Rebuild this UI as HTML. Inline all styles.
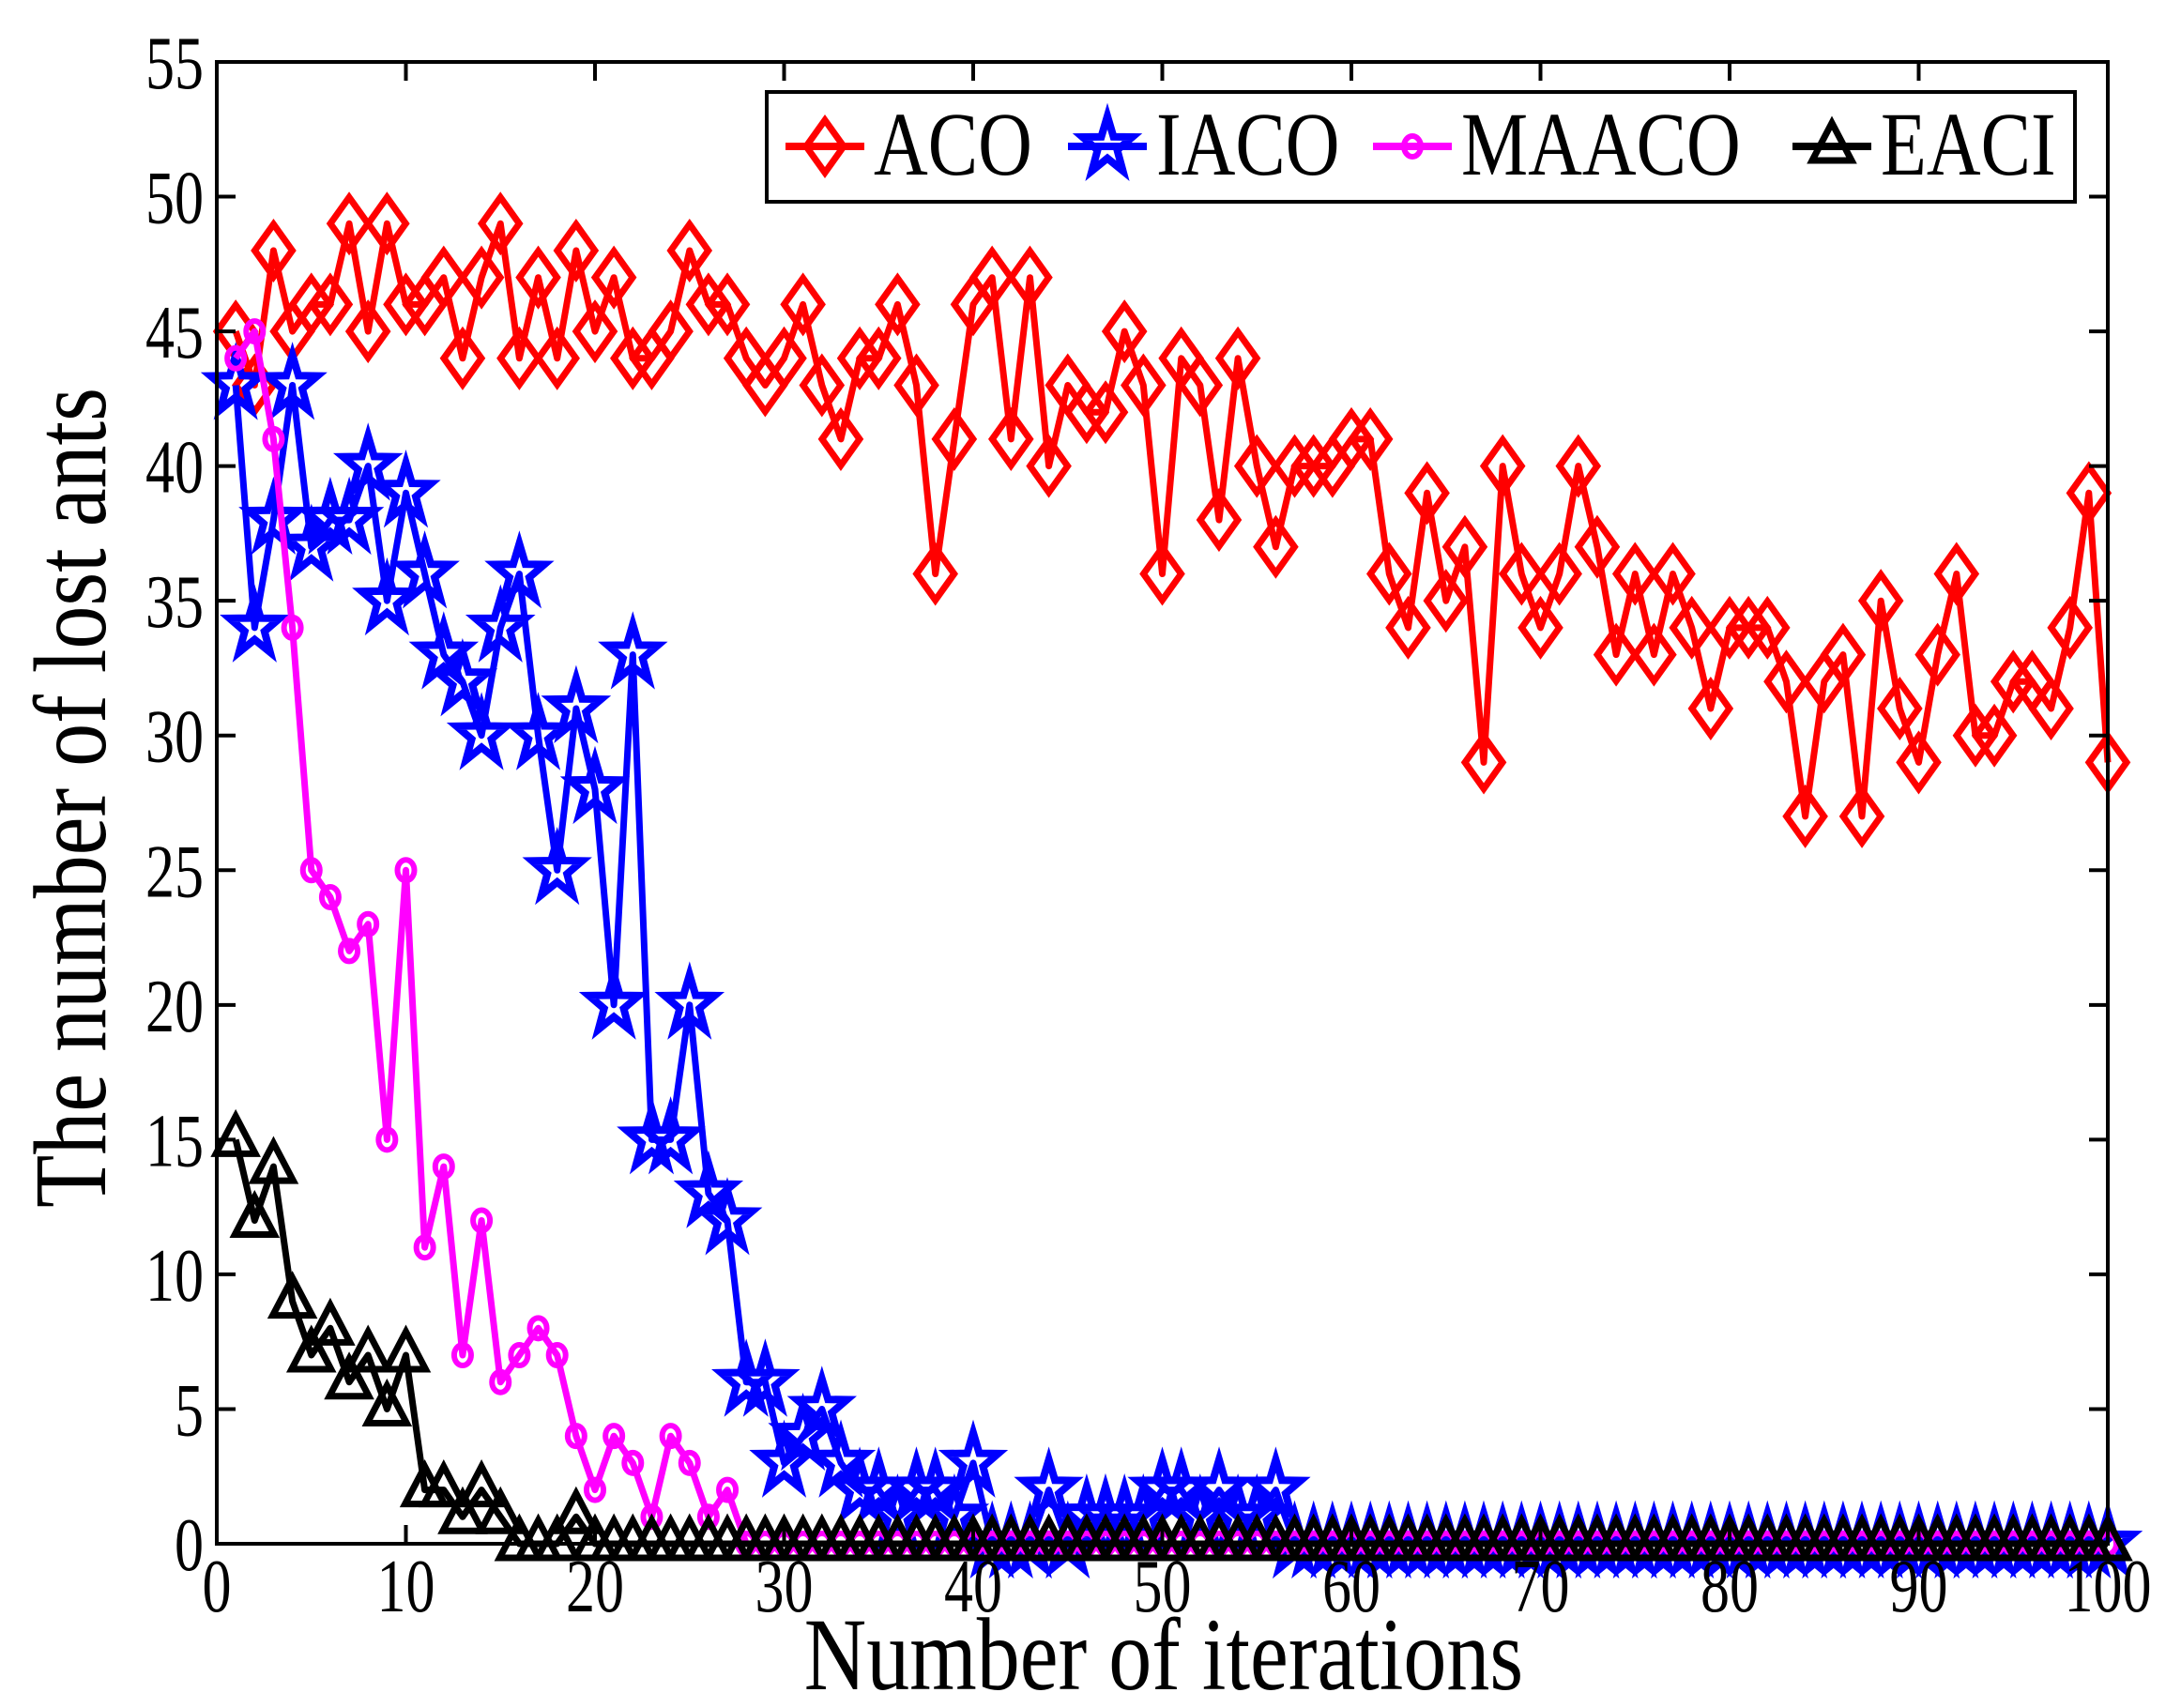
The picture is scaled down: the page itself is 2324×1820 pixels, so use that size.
<!DOCTYPE html>
<html><head><meta charset="utf-8"><style>
html,body{margin:0;padding:0;background:#fff;}
svg{display:block;}
text{font-family:"Liberation Serif",serif;fill:#000;}
</style></head><body>
<svg id="s" width="2324" height="1820" viewBox="0 0 2324 1820" xmlns="http://www.w3.org/2000/svg"></svg>
<script>
const L=231,R=2246,T=66,B=1645;
const X=v=>L+(R-L)*v/100, Y=v=>B-(B-T)*v/55;
const aco=[45,43,48,45,46,46,49,45,49,46,46,47,44,47,49,44,47,44,48,45,47,44,44,45,48,46,46,44,43,44,46,43,41,44,44,46,43,36,41,46,47,41,47,40,43,42,42,45,43,36,44,43,38,44,40,37,40,40,40,41,41,36,34,39,35,37,29,40,36,34,36,40,37,33,36,33,36,34,31,34,34,34,32,27,32,33,27,35,31,29,33,36,30,30,32,32,31,34,39,29];
const pad=(a)=>{while(a.length<100)a.push(0);return a;};
const iaco=pad([43,34,38,43,37,38,38,40,35,39,36,33,32,30,34,36,30,25,31,28,20,33,15,15,20,13,12,6,6,3,4,5,3,2,2,1,2,2,1,3,0,0,0,2,0,1,1,1,1,2,2,1,2,1,1,2]);
const maaco=pad([44,45,41,34,25,24,22,23,15,25,11,14,7,12,6,7,8,7,4,2,4,3,1,4,3,1,2]);
const eaci=pad([15,12,14,9,7,8,6,7,5,7,2,2,1,2,1,0,0,0,1,0]);
let h='';
function marker(t,x,y,c){
  if(t=='d') return `<polygon points="${x},${y-28} ${x+20},${y} ${x},${y+28} ${x-20},${y}" fill="none" stroke="${c}" stroke-width="7"/>`;
  if(t=='s'){let p=[];for(let i=0;i<10;i++){let r=i%2?11:28,a=-Math.PI/2+i*Math.PI/5;p.push((x+r*Math.cos(a)).toFixed(1)+','+(y+r*Math.sin(a)*1.15).toFixed(1));}return `<polygon points="${p.join(' ')}" fill="none" stroke="${c}" stroke-width="8"/>`;}
  if(t=='c') return `<ellipse cx="${x}" cy="${y}" rx="9" ry="11" fill="none" stroke="${c}" stroke-width="6"/>`;
  if(t=='t') return `<polygon points="${x},${y-25} ${x+21},${y+15} ${x-21},${y+15}" fill="none" stroke="${c}" stroke-width="7"/>`;
}
function series(d,c,t){
  let pts=d.map((v,i)=>X(i+1).toFixed(1)+','+Y(v).toFixed(1)).join(' ');
  h+=`<polyline points="${pts}" fill="none" stroke="${c}" stroke-width="7" stroke-linejoin="round"/>`;
  d.forEach((v,i)=>h+=marker(t,X(i+1),Y(v),c));
}
series(aco,'#ff0000','d');series(iaco,'#0000ff','s');series(maaco,'#ff00ff','c');series(eaci,'#000','t');
h+=`<rect x="${L}" y="${T}" width="${R-L}" height="${B-T}" fill="none" stroke="#000" stroke-width="4"/>`;
for(let v=0;v<=100;v+=10){let x=X(v);h+=`<line x1="${x}" y1="${B}" x2="${x}" y2="${B-20}" stroke="#000" stroke-width="4"/><line x1="${x}" y1="${T}" x2="${x}" y2="${T+20}" stroke="#000" stroke-width="4"/>`;
h+=`<text transform="translate(${x},${B+72}) scale(1,1.3)" font-size="62" text-anchor="middle">${v}</text>`;}
for(let v=0;v<=55;v+=5){let y=Y(v);h+=`<line x1="${L}" y1="${y}" x2="${L+20}" y2="${y}" stroke="#000" stroke-width="4"/><line x1="${R}" y1="${y}" x2="${R-20}" y2="${y}" stroke="#000" stroke-width="4"/>`;
h+=`<text transform="translate(${L-14},${y+28}) scale(1,1.3)" font-size="62" text-anchor="end">${v}</text>`;}
h+=`<text transform="translate(1240,1800) scale(1,1.2)" font-size="92" text-anchor="middle">Number of iterations</text>`;
h+=`<text transform="translate(112,850) rotate(-90) scale(1.0,1.2)" font-size="92" text-anchor="middle">The number of lost ants</text>`;
h+=`<rect x="817" y="98" width="1394" height="117" fill="#fff" stroke="#000" stroke-width="4"/>`;
const lg=[[837,'#ff0000','d','ACO'],[1138,'#0000ff','s','IACO'],[1463,'#ff00ff','c','MAACO'],[1910,'#000','t','EACI']];
lg.forEach(([x,c,t,s])=>{h+=`<line x1="${x}" y1="156" x2="${x+84}" y2="156" stroke="${c}" stroke-width="8"/>`+marker(t,x+42,156,c)+`<text transform="translate(${x+94},186) scale(1,1.2)" font-size="80">${s}</text>`;});
document.getElementById('s').innerHTML=h;
</script>
</body></html>
